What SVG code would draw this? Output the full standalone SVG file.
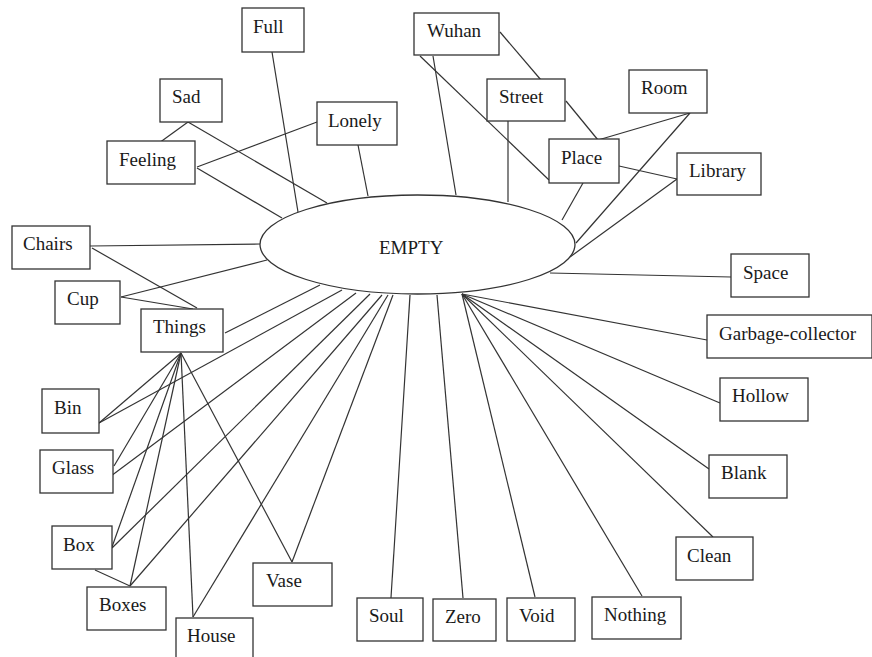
<svg xmlns="http://www.w3.org/2000/svg" width="872" height="657" viewBox="0 0 872 657">
  <style>
    .node rect, .node ellipse { fill: #ffffff; stroke: #333333; stroke-width: 1.3; }
    .node text { font-family: "Liberation Serif", "Times New Roman", serif; font-size: 19px; fill: #1a1a1a; }
    #connectors line { stroke: #333333; stroke-width: 1.2; }
  </style>
  <rect width="872" height="657" fill="#ffffff"/>

  <g id="connectors">
    <!-- upper left -->
    <line x1="272" y1="52" x2="298" y2="212"/>
    <line x1="188" y1="122" x2="159" y2="143"/>
    <line x1="188" y1="122" x2="327" y2="203"/>
    <line x1="197" y1="167" x2="317" y2="122"/>
    <line x1="197" y1="168" x2="282" y2="218"/>
    <line x1="358" y1="145" x2="368" y2="196"/>
    <!-- upper right -->
    <line x1="500" y1="32" x2="541" y2="80"/>
    <line x1="433" y1="56" x2="456" y2="195"/>
    <line x1="420" y1="56" x2="549" y2="180"/>
    <line x1="508" y1="121" x2="508" y2="202"/>
    <line x1="566" y1="101" x2="598" y2="140"/>
    <line x1="598" y1="140" x2="690" y2="113"/>
    <line x1="690" y1="113" x2="576" y2="243"/>
    <line x1="583" y1="183" x2="562" y2="220"/>
    <line x1="619" y1="166" x2="677" y2="179"/>
    <line x1="677" y1="179" x2="570" y2="257"/>
    <!-- left -->
    <line x1="90" y1="246" x2="260" y2="244"/>
    <line x1="92" y1="248" x2="197" y2="308"/>
    <line x1="121" y1="297" x2="267" y2="260"/>
    <line x1="121" y1="297" x2="193" y2="309"/>
    <line x1="225" y1="333" x2="320" y2="285"/>
    <!-- from Things -->
    <line x1="181" y1="353" x2="99" y2="423"/>
    <line x1="181" y1="353" x2="114" y2="466"/>
    <line x1="181" y1="353" x2="112" y2="547"/>
    <line x1="181" y1="353" x2="130" y2="586"/>
    <line x1="181" y1="353" x2="193" y2="617"/>
    <line x1="181" y1="353" x2="292" y2="562"/>
    <!-- lower left from EMPTY -->
    <line x1="342" y1="290" x2="99" y2="423"/>
    <line x1="356" y1="293" x2="111" y2="476"/>
    <line x1="370" y1="294" x2="112" y2="548"/>
    <line x1="382" y1="295" x2="130" y2="586"/>
    <line x1="388" y1="295" x2="193" y2="617"/>
    <line x1="393" y1="295" x2="292" y2="562"/>
    <line x1="95" y1="570" x2="130" y2="586"/>
    <!-- bottom -->
    <line x1="410" y1="295" x2="391" y2="598"/>
    <line x1="437" y1="295" x2="463" y2="598"/>
    <!-- lower right fan -->
    <line x1="462" y1="294" x2="535" y2="597"/>
    <line x1="462" y1="294" x2="642" y2="596"/>
    <line x1="462" y1="294" x2="713" y2="537"/>
    <line x1="462" y1="294" x2="709" y2="469"/>
    <line x1="462" y1="294" x2="720" y2="403"/>
    <line x1="462" y1="294" x2="707" y2="340"/>
    <line x1="550" y1="273" x2="731" y2="277"/>
  </g>

  <g id="node-empty" class="node">
    <ellipse cx="417.5" cy="244.5" rx="157.5" ry="49.5"/>
    <text x="379" y="254">EMPTY</text>
  </g>
  <g id="node-full" class="node"><rect x="242" y="8" width="62" height="44"/><text x="253" y="33">Full</text></g>
  <g id="node-sad" class="node"><rect x="160" y="79" width="62" height="43"/><text x="172" y="103">Sad</text></g>
  <g id="node-feeling" class="node"><rect x="107" y="141" width="88" height="43"/><text x="119" y="166">Feeling</text></g>
  <g id="node-lonely" class="node"><rect x="317" y="102" width="80" height="43"/><text x="328" y="127">Lonely</text></g>
  <g id="node-wuhan" class="node"><rect x="414" y="13" width="85" height="42"/><text x="427" y="37">Wuhan</text></g>
  <g id="node-street" class="node"><rect x="487" y="79" width="78" height="42"/><text x="499" y="103">Street</text></g>
  <g id="node-room" class="node"><rect x="629" y="70" width="78" height="43"/><text x="641" y="94">Room</text></g>
  <g id="node-place" class="node"><rect x="549" y="139" width="70" height="44"/><text x="561" y="164">Place</text></g>
  <g id="node-library" class="node"><rect x="677" y="153" width="84" height="42"/><text x="689" y="177">Library</text></g>
  <g id="node-chairs" class="node"><rect x="12" y="226" width="78" height="43"/><text x="23" y="250">Chairs</text></g>
  <g id="node-cup" class="node"><rect x="55" y="281" width="65" height="43"/><text x="67" y="305">Cup</text></g>
  <g id="node-things" class="node"><rect x="141" y="309" width="82" height="43"/><text x="153" y="333">Things</text></g>
  <g id="node-space" class="node"><rect x="731" y="254" width="78" height="43"/><text x="743" y="279">Space</text></g>
  <g id="node-garbage-collector" class="node"><rect x="707" y="315" width="165" height="43"/><text x="719" y="340">Garbage-collector</text></g>
  <g id="node-hollow" class="node"><rect x="720" y="378" width="88" height="43"/><text x="732" y="402">Hollow</text></g>
  <g id="node-blank" class="node"><rect x="709" y="455" width="78" height="43"/><text x="721" y="479">Blank</text></g>
  <g id="node-clean" class="node"><rect x="676" y="537" width="77" height="43"/><text x="687" y="562">Clean</text></g>
  <g id="node-nothing" class="node"><rect x="592" y="597" width="89" height="42"/><text x="604" y="621">Nothing</text></g>
  <g id="node-void" class="node"><rect x="507" y="598" width="68" height="43"/><text x="519" y="622">Void</text></g>
  <g id="node-zero" class="node"><rect x="433" y="599" width="63" height="42"/><text x="445" y="623">Zero</text></g>
  <g id="node-soul" class="node"><rect x="357" y="598" width="66" height="43"/><text x="369" y="622">Soul</text></g>
  <g id="node-vase" class="node"><rect x="253" y="563" width="79" height="43"/><text x="266" y="587">Vase</text></g>
  <g id="node-house" class="node"><rect x="176" y="618" width="77" height="43"/><text x="187" y="642">House</text></g>
  <g id="node-boxes" class="node"><rect x="87" y="587" width="79" height="43"/><text x="99" y="611">Boxes</text></g>
  <g id="node-box" class="node"><rect x="52" y="526" width="60" height="43"/><text x="63" y="551">Box</text></g>
  <g id="node-glass" class="node"><rect x="40" y="450" width="73" height="43"/><text x="52" y="474">Glass</text></g>
  <g id="node-bin" class="node"><rect x="42" y="389" width="57" height="44"/><text x="54" y="414">Bin</text></g>
</svg>
